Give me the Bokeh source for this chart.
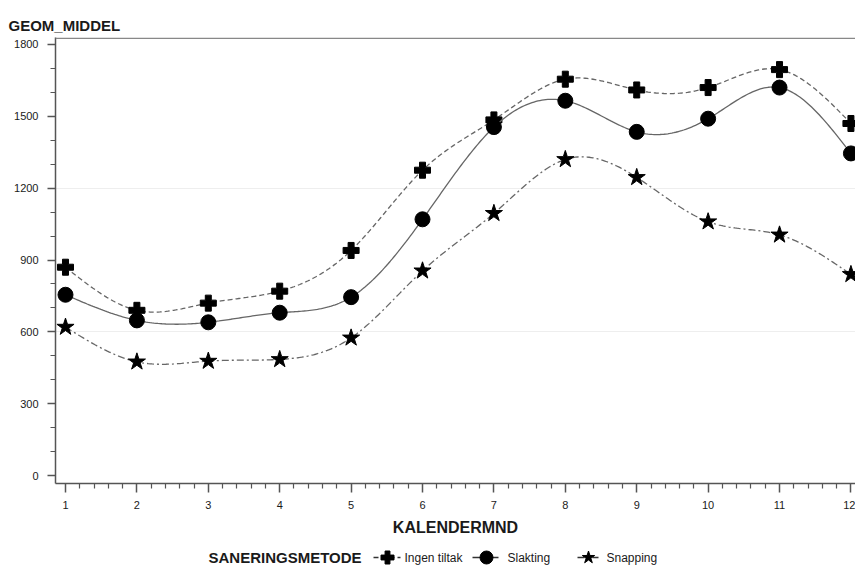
import numpy as np
from bokeh.plotting import figure
from bokeh.layouts import column
from bokeh.models import Range1d, FixedTicker, Span
from bokeh.core.properties import value
from bokeh.embed import file_html
from bokeh.resources import INLINE

months = [1, 2, 3, 4, 5, 6, 7, 8, 9, 10, 11, 12]
ingen_tiltak = [870, 690, 720, 770, 940, 1275, 1485, 1655, 1610, 1620, 1695, 1470]
slakting = [755, 648, 640, 680, 745, 1070, 1455, 1565, 1435, 1490, 1620, 1345]
snapping = [620, 475, 478, 485, 575, 855, 1095, 1320, 1245, 1060, 1005, 840]
y_ticks = [0, 300, 600, 900, 1200, 1500, 1800]
series_names = ["Ingen tiltak", "Slakting", "Snapping"]
legend_title = "SANERINGSMETODE"


def natural_spline(x, y, n=400):
    x = np.asarray(x, float)
    y = np.asarray(y, float)
    k = len(x)
    h = np.diff(x)
    A = np.zeros((k, k))
    b = np.zeros(k)
    A[0, 0] = 1
    A[-1, -1] = 1
    for i in range(1, k - 1):
        A[i, i - 1] = h[i - 1]
        A[i, i] = 2 * (h[i - 1] + h[i])
        A[i, i + 1] = h[i]
        b[i] = 3 * ((y[i + 1] - y[i]) / h[i] - (y[i] - y[i - 1]) / h[i - 1])
    c = np.linalg.solve(A, b)
    xs = np.linspace(x[0], x[-1], n)
    ys = np.empty_like(xs)
    for j, t in enumerate(xs):
        i = min(np.searchsorted(x, t, side="right") - 1, k - 2)
        dx = t - x[i]
        bi = (y[i + 1] - y[i]) / h[i] - h[i] * (2 * c[i] + c[i + 1]) / 3
        di = (c[i + 1] - c[i]) / (3 * h[i])
        ys[j] = y[i] + bi * dx + c[i] * dx ** 2 + di * dx ** 3
    return xs, ys


FONT = "Liberation Sans"
TXT = "#1a1a1a"
AX = "#555555"

p = figure(width=855, height=540, output_backend="svg", toolbar_location=None,
           x_range=Range1d(0.86, 12.064), y_range=Range1d(-33, 1829),
           min_border_left=55, min_border_right=0, min_border_top=37,
           min_border_bottom=57, title="GEOM_MIDDEL")

p.title.text_font = FONT
p.title.text_font_size = "15px"
p.title.text_font_style = "bold"
p.title.text_color = TXT
p.title.align = "left"
p.title.offset = -47
p.title.standoff = 8

p.outline_line_color = None
p.add_layout(Span(location=1826, dimension="width", line_color="#888888", line_width=1.5))
p.background_fill_color = "white"
p.border_fill_color = "white"

p.xgrid.grid_line_color = None
p.ygrid.grid_line_color = "#eeeeee"
p.ygrid.ticker = FixedTicker(ticks=[600, 1200])

p.xaxis.ticker = FixedTicker(ticks=months,
                             minor_ticks=[m + f for m in months[:-1] for f in (0.2, 0.4, 0.6, 0.8)])
p.yaxis.ticker = FixedTicker(ticks=y_ticks,
                             minor_ticks=[t + f for t in y_ticks[:-1] for f in (100, 200)])
for ax in (p.xaxis[0], p.yaxis[0]):
    ax.axis_line_color = AX
    ax.axis_line_width = 1.5
    ax.major_tick_line_color = AX
    ax.minor_tick_line_color = AX
    ax.major_tick_line_width = 1.5
    ax.minor_tick_line_width = 1.2
    ax.major_tick_in = 0
    ax.minor_tick_in = 0
    ax.major_label_text_font = FONT
    ax.major_label_text_font_size = "11px"
    ax.major_label_text_color = TXT
p.xaxis.major_tick_out = 9
p.xaxis.minor_tick_out = 5
p.yaxis.major_tick_out = 8
p.yaxis.minor_tick_out = 5
p.yaxis.major_label_standoff = 9
p.xaxis.major_label_standoff = 8
p.xaxis.axis_label = "KALENDERMND"
p.xaxis.axis_label_text_font = FONT
p.xaxis.axis_label_text_font_size = "16px"
p.xaxis.axis_label_text_font_style = "bold"
p.xaxis.axis_label_text_color = TXT
p.xaxis.axis_label_standoff = 7

data = [ingen_tiltak, slakting, snapping]
dashes = ["5 3", "solid", "7 3 2 3"]
markers = ["plus", "circle", "star"]
sizes = [16, 15, 18]
for name, vals, dash, mk, sz in zip(series_names, data, dashes, markers, sizes):
    xs, ys = natural_spline(months, vals)
    p.line(xs, ys, line_color="#666666", line_width=1.3, line_dash=dash)
    p.scatter(months, vals, marker=mk, size=sz, color="black")

# legend strip below the plot (its frame is aligned with the main frame: 55..855 px)
lg = figure(width=855, height=25, output_backend="svg", toolbar_location=None,
            x_range=Range1d(55, 855), y_range=Range1d(0, 25),
            min_border_left=55, min_border_right=0, min_border_top=0,
            min_border_bottom=0, outline_line_color=None)
lg.axis.visible = False
lg.grid.visible = False
lg.border_fill_color = "white"

lg.text([208], [8], text=[legend_title], text_font=value(FONT),
        text_font_size="15px", text_font_style="bold", text_color=TXT,
        text_baseline="middle")
line_x0 = [373, 472, 577]
line_x1 = [400, 498, 598]
mark_x = [387, 486, 588]
label_x = [404, 507, 606]
for i, name in enumerate(series_names):
    lg.segment([line_x0[i]], [8], [line_x1[i]], [8], line_color="#333333",
               line_width=1.5, line_dash=dashes[i])
    lg.scatter([mark_x[i]], [8], marker=markers[i], size=13, color="black")
    lg.text([label_x[i]], [8], text=[name], text_font=value(FONT),
            text_font_size="12px", text_color=TXT, text_baseline="middle")

layout = column(p, lg, spacing=0)
open("out.html", "w").write(file_html(layout, INLINE))
